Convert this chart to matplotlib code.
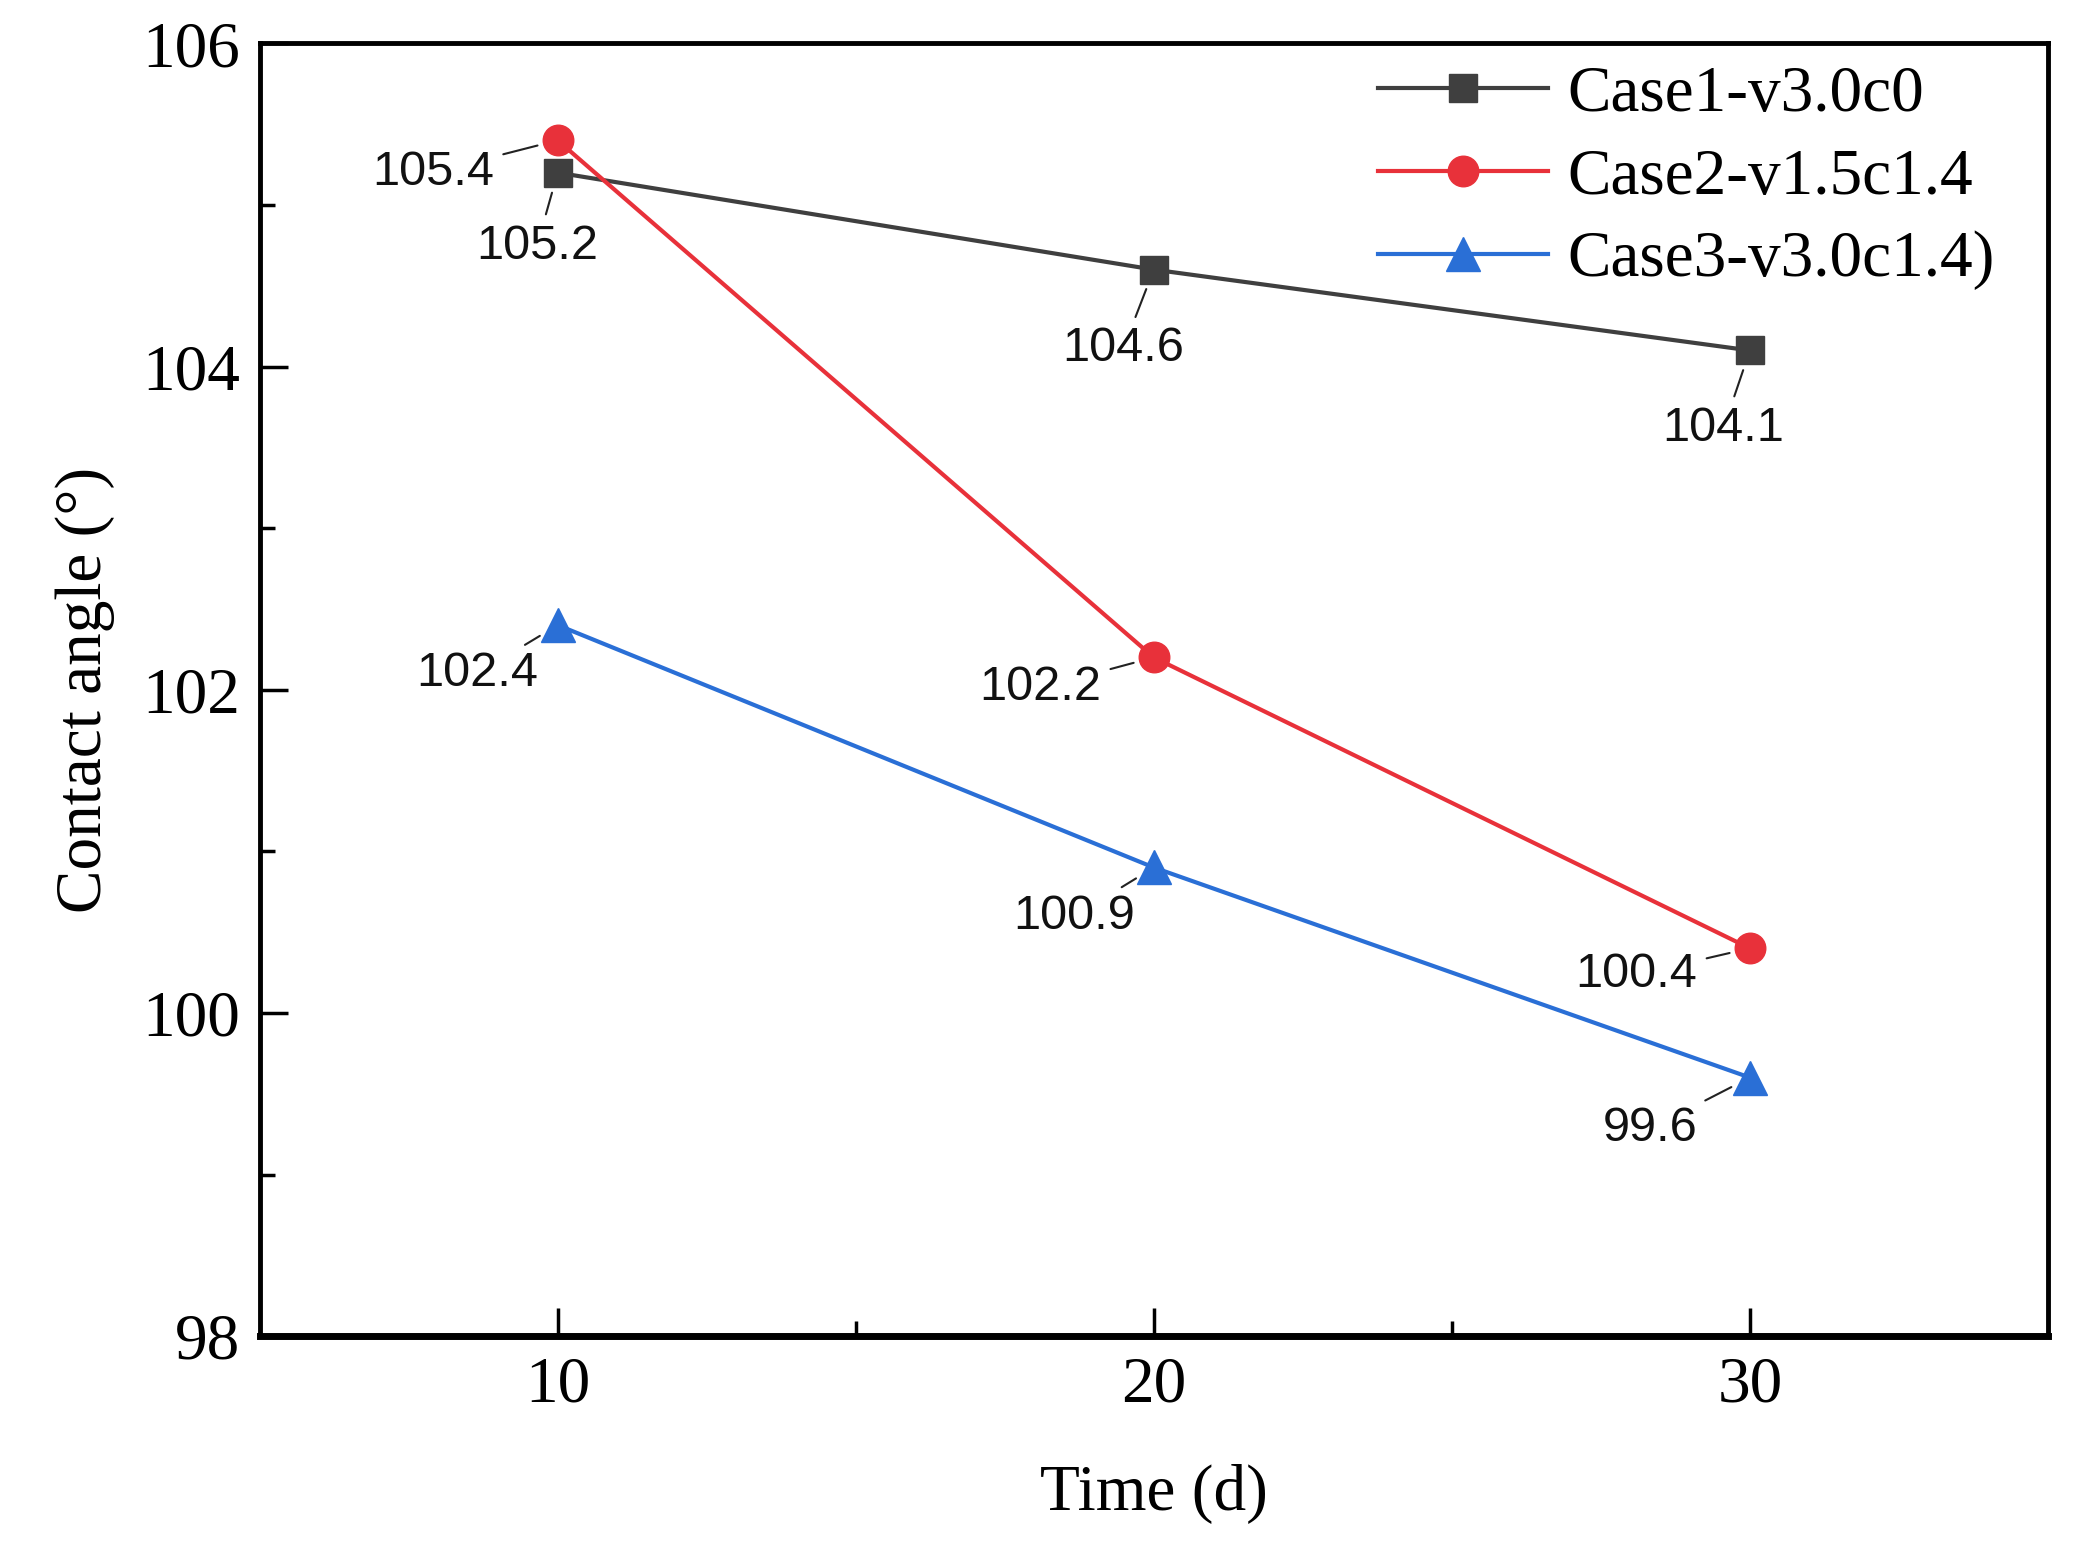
import matplotlib
matplotlib.use("Agg")
import matplotlib.pyplot as plt

# data
days = [10, 20, 30]
case1 = [105.2, 104.6, 104.1]
case2 = [105.4, 102.2, 100.4]
case3 = [102.4, 100.9, 99.6]
labels = ["Case1-v3.0c0", "Case2-v1.5c1.4", "Case3-v3.0c1.4)"]

serif = ["Liberation Serif", "DejaVu Serif"]
sans = ["Liberation Sans", "DejaVu Sans"]

fig = plt.figure(figsize=(20.77, 15.5), dpi=100)
ax = fig.add_axes([0.125, 0.138, 0.861, 0.834])

ax.plot(days, case1, color="#3f3f3f", lw=3, marker="s", ms=20, label=labels[0])
ax.plot(days, case2, color="#e8313a", lw=3, marker="o", ms=22, label=labels[1])
ax.plot(days, case3, color="#2a6fd6", lw=3, marker="^", ms=24, label=labels[2])

# value labels: (x, y, dx, dy, ha) offsets in points
notes = [
    (days[0], case2[0], -46, -23, "right"),
    (days[0], case1[0], -15, -53, "center"),
    (days[1], case1[1], -22, -57, "center"),
    (days[2], case1[2], -19, -56, "center"),
    (days[0], case3[0], -58, -35, "center"),
    (days[1], case2[1], -38, -22, "right"),
    (days[1], case3[1], -57, -35, "center"),
    (days[2], case2[2], -38, -19, "right"),
    (days[2], case3[2], -72, -37, "center"),
]
for x, y, dx, dy, ha in notes:
    ax.annotate(f"{y:.1f}", xy=(x, y), xytext=(dx, dy), textcoords="offset points",
                ha=ha, va="center", fontsize=35, family=sans, color="#111111",
                arrowprops=dict(arrowstyle="-", color="#222222", lw=1.5,
                                shrinkA=5, shrinkB=15))

ax.set_xlim(5, 35)
ax.set_ylim(98, 106)
ax.set_xticks([10, 20, 30])
ax.set_xticks([15, 25], minor=True)
ax.set_yticks([98, 100, 102, 104, 106])
ax.set_yticks([99, 101, 103, 105], minor=True)
ax.tick_params(which="major", direction="in", length=20, width=2.5, labelsize=47, pad=14)
ax.tick_params(which="minor", direction="in", length=11, width=2.5)
for lab in ax.get_xticklabels() + ax.get_yticklabels():
    lab.set_family(serif)
for s in ax.spines.values():
    s.set_linewidth(3.5)
ax.spines["bottom"].set_linewidth(5)

ax.set_xlabel("Time (d)", fontsize=47, family=serif, labelpad=35)
ax.set_ylabel("Contact angle (°)", fontsize=47, family=serif, labelpad=20)

ax.legend(loc="upper right", frameon=False, prop={"family": serif, "size": 47},
          handlelength=2.6, handletextpad=0.3, labelspacing=0.35,
          borderaxespad=0.0, bbox_to_anchor=(0.985, 1.003))

fig.savefig("out.png", dpi=100)
